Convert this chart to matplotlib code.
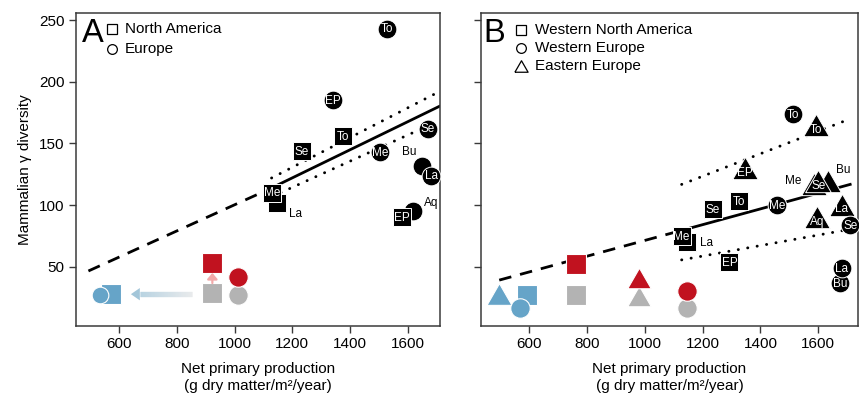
import matplotlib.pyplot as plt
import numpy as np
from matplotlib.collections import LineCollection
from matplotlib.colors import LinearSegmentedColormap
from matplotlib.patches import Polygon

plt.rcParams['font.family'] = ['Liberation Sans', 'DejaVu Sans']
plt.rcParams['lines.scale_dashes'] = False

BLUE = '#66a4c8'
RED = '#c1121f'
GRAY = '#b3b3b3'
AXC = '#3a3a3a'

# ---- panel A: North America (squares), Europe (circles)
a_na_sites = ['EP', 'La', 'Me', 'Se', 'To']
a_na_npp = [1579, 1147, 1129, 1233, 1375]
a_na_div = [90, 102, 110, 144, 156]
a_eu_sites = ['Aq', 'Bu', 'La', 'Me', 'Se', 'EP', 'To']
a_eu_npp = [1617, 1648, 1680, 1503, 1669, 1340, 1527]
a_eu_div = [95, 132, 124, 143, 162, 185, 243]

# regression (dashed extrapolation + solid fit) and confidence band
a_fit_x = [494, 1120, 1708]
a_fit_y = [46.6, 113, 180]
a_upper_x = [1128, 1705]
a_upper_y = [122, 191.6]
a_lower_x = [1130, 1700]
a_lower_y = [107, 167.5]

# summary markers: past (gray), present (red), shifted (blue)
a_gray_npp = [923, 1012]
a_gray_div = [28.5, 27]
a_red_npp = [923, 1012]
a_red_div = [53, 41.4]
a_blue_npp = [572, 533]
a_blue_div = [28.3, 27]
a_shift_x = [851, 641]
a_shift_y = 27.8
a_rise_y = [36.8, 45]

# ---- panel B: W North America (squares), W Europe (circles), E Europe (triangles)
b_na_sites = ['EP', 'La', 'Me', 'Se', 'To']
b_na_npp = [1293, 1146, 1128, 1236, 1327]
b_na_div = [53.7, 70.5, 74.6, 97, 103.2]
b_we_sites = ['Bu', 'La', 'Me', 'To']
b_we_npp = [1675, 1681, 1457, 1514]
b_we_div = [36.5, 48.8, 99.7, 173.5]
b_ee_sites = ['Aq', 'La', 'Bu', 'Me', 'Se', 'EP', 'To']
b_ee_npp = [1597, 1681, 1635, 1585, 1600, 1347, 1591]
b_ee_div = [90.4, 100.5, 119.8, 117, 119.8, 129.7, 165]
b_we2_sites = ['Se']
b_we2_npp = [1710]
b_we2_div = [84]

b_fit_x = [498, 1120, 1710]
b_fit_y = [39.2, 79, 116.8]
b_upper_x = [1128, 1695]
b_upper_y = [116.8, 168.6]
b_lower_x = [1128, 1700]
b_lower_y = [55.6, 80]

b_gray_npp = [763, 1146, 980]
b_gray_div = [27, 16.6, 26.3]
b_red_npp = [763, 1146, 980]
b_red_div = [52.3, 30.5, 41]
b_blue_npp = [594, 497, 568]
b_blue_div = [27, 27.9, 16.6]

TRI = [(-1.15, -1), (1.15, -1), (0, 1), (-1.15, -1)]

# labels drawn outside the marker (offset in points)
OUT_A = {('s', 'La'): (13, -8), ('o', 'Bu'): (-9, 10), ('o', 'Aq'): (13, 6)}
OUT_B = {('s', 'La'): (14, -1), ('t', 'Me'): (-15, 2), ('t', 'Bu'): (11, 8)}

fig = plt.figure(figsize=(8.6, 3.95), dpi=100)
W, H = 860, 395
axA = fig.add_axes([75.7 / W, (H - 326) / H, (440 - 75.7) / W, (326 - 12.7) / H])
axB = fig.add_axes([481 / W, (H - 326) / H, (858 - 481) / W, (326 - 12.7) / H])

zc = [3.0]


def site(ax, x, y, name, marker, ms, key, outside, tdy=0):
    zc[0] += 0.01
    ax.plot([x], [y], marker=marker, ms=ms, mfc='black', mec='white',
            mew=0.7, ls='none', zorder=zc[0])
    if key in outside:
        ax.annotate(name, (x, y), xytext=outside[key], textcoords='offset points',
                    color='black', fontsize=8.5, ha='center', va='center',
                    zorder=zc[0] + 0.005)
    else:
        ax.annotate(name, (x, y), xytext=(0, tdy - 0.5), textcoords='offset points',
                    color='white', fontsize=8.5, ha='center', va='center',
                    zorder=zc[0] + 0.005)


def fit_lines(ax, fx, fy, ux, uy, lx, ly):
    ax.plot(fx[:2], fy[:2], color='black', lw=2, ls=(0, (9, 6.5)), zorder=2)
    ax.plot(fx[1:], fy[1:], color='black', lw=2, zorder=2)
    for xs, ys in ((ux, uy), (lx, ly)):
        ax.plot(xs, ys, color='black', lw=2.1, ls=(0, (0.1, 6.8)),
                dash_capstyle='round', zorder=2)


def summary(ax, shapes, npp, div, color, sizes):
    for m, x, y, s in zip(shapes, npp, div, sizes):
        ax.plot([x], [y], marker=m, ms=s, mfc=color, mec='white', mew=0.8,
                ls='none', zorder=2.5)


def legend(ax, letter, lx, entries, mx, tx, ys):
    ax.text(lx, 0.906, letter, transform=ax.transAxes, fontsize=23.5,
            va='baseline', ha='left')
    for (m, lab), y in zip(entries, ys):
        ax.plot([mx], [y], marker=m, ms=7 if m != TRI else 9.5, mfc='white',
                mec='black', mew=0.9, ls='none', transform=ax.transAxes,
                clip_on=False)
        ax.text(tx, y, lab, transform=ax.transAxes, fontsize=11, va='center',
                ha='left')


# ---------------- panel A
fit_lines(axA, a_fit_x, a_fit_y, a_upper_x, a_upper_y, a_lower_x, a_lower_y)
for n, x, y in zip(a_eu_sites, a_eu_npp, a_eu_div):
    site(axA, x, y, n, 'o', 13.5, ('o', n), OUT_A)
for n, x, y in zip(a_na_sites, a_na_npp, a_na_div):
    site(axA, x, y, n, 's', 13, ('s', n), OUT_A)

summary(axA, ['s', 'o'], a_gray_npp, a_gray_div, GRAY, [14.5, 14])
summary(axA, ['s', 'o'], a_red_npp, a_red_div, RED, [14.5, 14])
summary(axA, ['s', 'o'], a_blue_npp, a_blue_div, BLUE, [14.5, 12])

# gradient arrow: gray -> blue
cmap = LinearSegmentedColormap.from_list('shift', ['#e2e5e7', '#a3c6d9'])
head_len = 31
xs = np.linspace(a_shift_x[0], a_shift_x[1] + head_len, 80)
segs = [[(xs[i], a_shift_y), (xs[i + 1], a_shift_y)] for i in range(len(xs) - 1)]
lc = LineCollection(segs, colors=cmap(np.linspace(0, 1, len(segs))), lw=3.8,
                    capstyle='butt', zorder=2)
axA.add_collection(lc)
axA.add_patch(Polygon([(a_shift_x[1] + head_len, a_shift_y + 5),
                       (a_shift_x[1], a_shift_y),
                       (a_shift_x[1] + head_len, a_shift_y - 5)],
                      closed=True, color='#a3c6d9', lw=0, zorder=2))
axA.annotate('', xy=(a_gray_npp[0], a_rise_y[1]), xytext=(a_gray_npp[0], a_rise_y[0]),
             arrowprops=dict(arrowstyle='-|>,head_length=0.35,head_width=0.3',
                             color='#f2a9a9', lw=1.6, shrinkA=0, shrinkB=0),
             zorder=2.7)

legend(axA, 'A', 0.016, [('s', 'North America'), ('o', 'Europe')],
       0.099, 0.135, [0.948, 0.884])

# ---------------- panel B
fit_lines(axB, b_fit_x, b_fit_y, b_upper_x, b_upper_y, b_lower_x, b_lower_y)
for n, x, y in zip(b_we_sites, b_we_npp, b_we_div):
    site(axB, x, y, n, 'o', 13.5, ('o', n), OUT_B)
for n, x, y in zip(b_ee_sites, b_ee_npp, b_ee_div):
    site(axB, x, y, n, TRI, 18.5, ('t', n), OUT_B, tdy=-3)
for n, x, y in zip(b_we2_sites, b_we2_npp, b_we2_div):
    site(axB, x, y, n, 'o', 13.5, ('o', n), OUT_B)
for n, x, y in zip(b_na_sites, b_na_npp, b_na_div):
    site(axB, x, y, n, 's', 13.5, ('s', n), OUT_B)

summary(axB, ['s', 'o', TRI], b_gray_npp, b_gray_div, GRAY, [14.5, 14, 17])
summary(axB, ['s', 'o', TRI], b_red_npp, b_red_div, RED, [14.5, 14, 17])
summary(axB, ['s', TRI, 'o'], b_blue_npp, b_blue_div, BLUE, [14.5, 18, 14])

legend(axB, 'B', 0.005,
       [('s', 'Western North America'), ('o', 'Western Europe'), (TRI, 'Eastern Europe')],
       0.106, 0.143, [0.945, 0.888, 0.830])

# ---------------- axes styling
for ax, xl in ((axA, (450, 1711)), (axB, (435, 1737))):
    ax.set_xlim(*xl)
    ax.set_ylim(2, 256)
    ax.set_xticks([600, 800, 1000, 1200, 1400, 1600])
    ax.set_yticks([50, 100, 150, 200, 250])
    for sp in ax.spines.values():
        sp.set_color(AXC)
        sp.set_linewidth(1.1)
    ax.tick_params(direction='out', length=5, width=1, color=AXC, labelsize=11,
                   pad=3)
    ax.set_xlabel('Net primary production\n(g dry matter/m²/year)', fontsize=11,
                  labelpad=8, linespacing=1.25)

axB.tick_params(labelleft=False)
axA.set_ylabel('Mammalian γ diversity', fontsize=11, labelpad=5)

fig.savefig('out.png', dpi=100)
